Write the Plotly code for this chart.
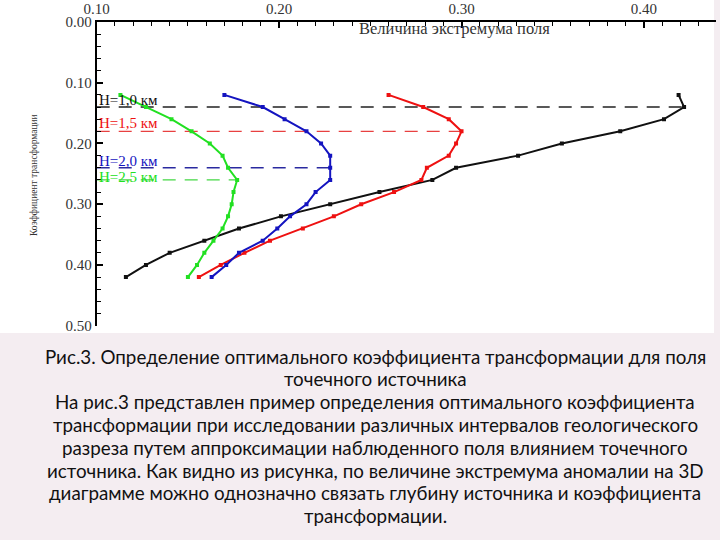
import plotly.graph_objects as go

# Transformation coefficient (y) values, common to all curves
coef = [0.12, 0.14, 0.16, 0.18, 0.20, 0.22, 0.24, 0.26, 0.28, 0.30,
        0.32, 0.34, 0.36, 0.38, 0.40, 0.42]

# Extremum magnitude (x) for each source depth
h10 = [0.419, 0.422, 0.411, 0.387, 0.355, 0.331, 0.297, 0.284, 0.255, 0.228,
       0.201, 0.178, 0.159, 0.140, 0.127, 0.116]
h15 = [0.260, 0.279, 0.293, 0.300, 0.297, 0.293, 0.281, 0.278, 0.263, 0.245,
       0.230, 0.213, 0.195, 0.181, 0.168, 0.156]
h20 = [0.170, 0.191, 0.203, 0.215, 0.223, 0.228, 0.228, 0.228, 0.220, 0.215,
       0.206, 0.199, 0.191, 0.178, 0.171, 0.163]
h25 = [0.113, 0.127, 0.141, 0.152, 0.162, 0.169, 0.172, 0.177, 0.175, 0.174,
       0.172, 0.169, 0.164, 0.159, 0.155, 0.150]

labels = ["H=1,0 км", "H=1,5 км", "H=2,0 км", "H=2,5 км"]
opt_coef = [0.14, 0.18, 0.24, 0.26]
x_ticks = [0.10, 0.20, 0.30, 0.40]
y_ticks = [0.00, 0.10, 0.20, 0.30, 0.40, 0.50]

series = [h10, h15, h20, h25]
colors = ["#111111", "#ee1111", "#1414c0", "#22e022"]
dash_colors = ["#222222", "#e84040", "#2a2aa0", "#44d844"]
label_dy = [-0.0115, -0.013, -0.011, -0.005]

X0, X1 = 0.10, 0.4395
fig = go.Figure()

# optimum dashed lines
for s, k, dc in zip(series, opt_coef, dash_colors):
    fig.add_trace(go.Scatter(x=[X0, max(s)], y=[k, k], mode="lines",
                             line=dict(color=dc, width=1.4, dash="13px,9px"),
                             hoverinfo="skip", showlegend=False))

for s, c in zip(series, colors):
    fig.add_trace(go.Scatter(x=s, y=coef, mode="lines+markers",
                             line=dict(color=c, width=2),
                             marker=dict(symbol="square", size=4, color=c),
                             showlegend=False))

ann = []
for lab, k, c, dy in zip(labels, opt_coef, colors, label_dy):
    ann.append(dict(x=X0 + 0.0003, y=k + dy, xref="x", yref="y", text=lab,
                    showarrow=False, xanchor="left", yanchor="middle",
                    font=dict(family="Liberation Serif", size=15, color=c)))

ann.append(dict(x=0.296, y=0.0115, xref="x", yref="y", text="Величина экстремума поля",
                showarrow=False, xanchor="center", yanchor="middle",
                font=dict(family="Liberation Serif", size=16.5, color="#333333")))
ann.append(dict(x=34 / 720, y=1 - 175 / 540, xref="paper", yref="paper",
                text="Коэффициент трансформации", textangle=-90, showarrow=False,
                xanchor="center", yanchor="middle",
                font=dict(family="Liberation Serif", size=9.5, color="#333333")))

caption = [
    "Рис.3. Определение оптимального коэффициента трансформации для поля",
    "точечного источника",
    "На рис.3 представлен пример определения оптимального коэффициента",
    "трансформации при исследовании различных интервалов геологического",
    "разреза путем аппроксимации наблюденного поля влиянием точечного",
    "источника. Как видно из рисунка, по величине экстремума аномалии на 3D",
    "диаграмме можно однозначно связать глубину источника и коэффициента",
    "трансформации.",
]
for i, line in enumerate(caption):
    ann.append(dict(x=375 / 720, y=1 - (356 + i * 22.8) / 540, xref="paper", yref="paper",
                    text=line, showarrow=False, xanchor="center", yanchor="middle",
                    font=dict(family="Lato", size=18.8, color="#111111")))

fig.update_layout(
    width=720, height=540,
    margin=dict(l=0, r=0, t=0, b=0, autoexpand=False),
    paper_bgcolor="#f4edf1",
    plot_bgcolor="rgba(0,0,0,0)",
    annotations=ann,
    shapes=[dict(type="rect", xref="paper", yref="paper", x0=0, x1=714 / 720,
                 y0=1 - 333 / 540, y1=1, fillcolor="white", line=dict(width=0),
                 layer="below")],
    xaxis=dict(domain=[96.7 / 720, 716 / 720], range=[X0, X1], side="top",
               automargin=False,
               showline=True, linecolor="black", linewidth=2, showgrid=False,
               zeroline=False, tickvals=x_ticks, ticktext=[f"{v:.2f}" for v in x_ticks],
               ticks="inside", ticklen=6, tickcolor="black", tickwidth=1.5,
               minor=dict(dtick=0.01, tick0=0.10, ticks="inside", ticklen=4,
                          tickcolor="black", tickwidth=1),
               tickfont=dict(family="Liberation Serif", size=15, color="#333333")),
    yaxis=dict(domain=[1 - 325.7 / 540, 1 - 22 / 540], range=[0.5, 0.0],
               automargin=False,
               showline=True, linecolor="black", linewidth=2, showgrid=False,
               zeroline=False, tickvals=y_ticks, ticktext=[f"{v:.2f}" for v in y_ticks],
               ticks="inside", ticklen=6, tickcolor="black", tickwidth=1.5,
               minor=dict(dtick=0.02, tick0=0.0, ticks="inside", ticklen=4,
                          tickcolor="black", tickwidth=1),
               tickfont=dict(family="Liberation Serif", size=15, color="#333333")),
)

fig.write_html("out.html", config={"displayModeBar": False},
               post_script="document.body.style.margin='0px';document.body.style.overflow='hidden';")
